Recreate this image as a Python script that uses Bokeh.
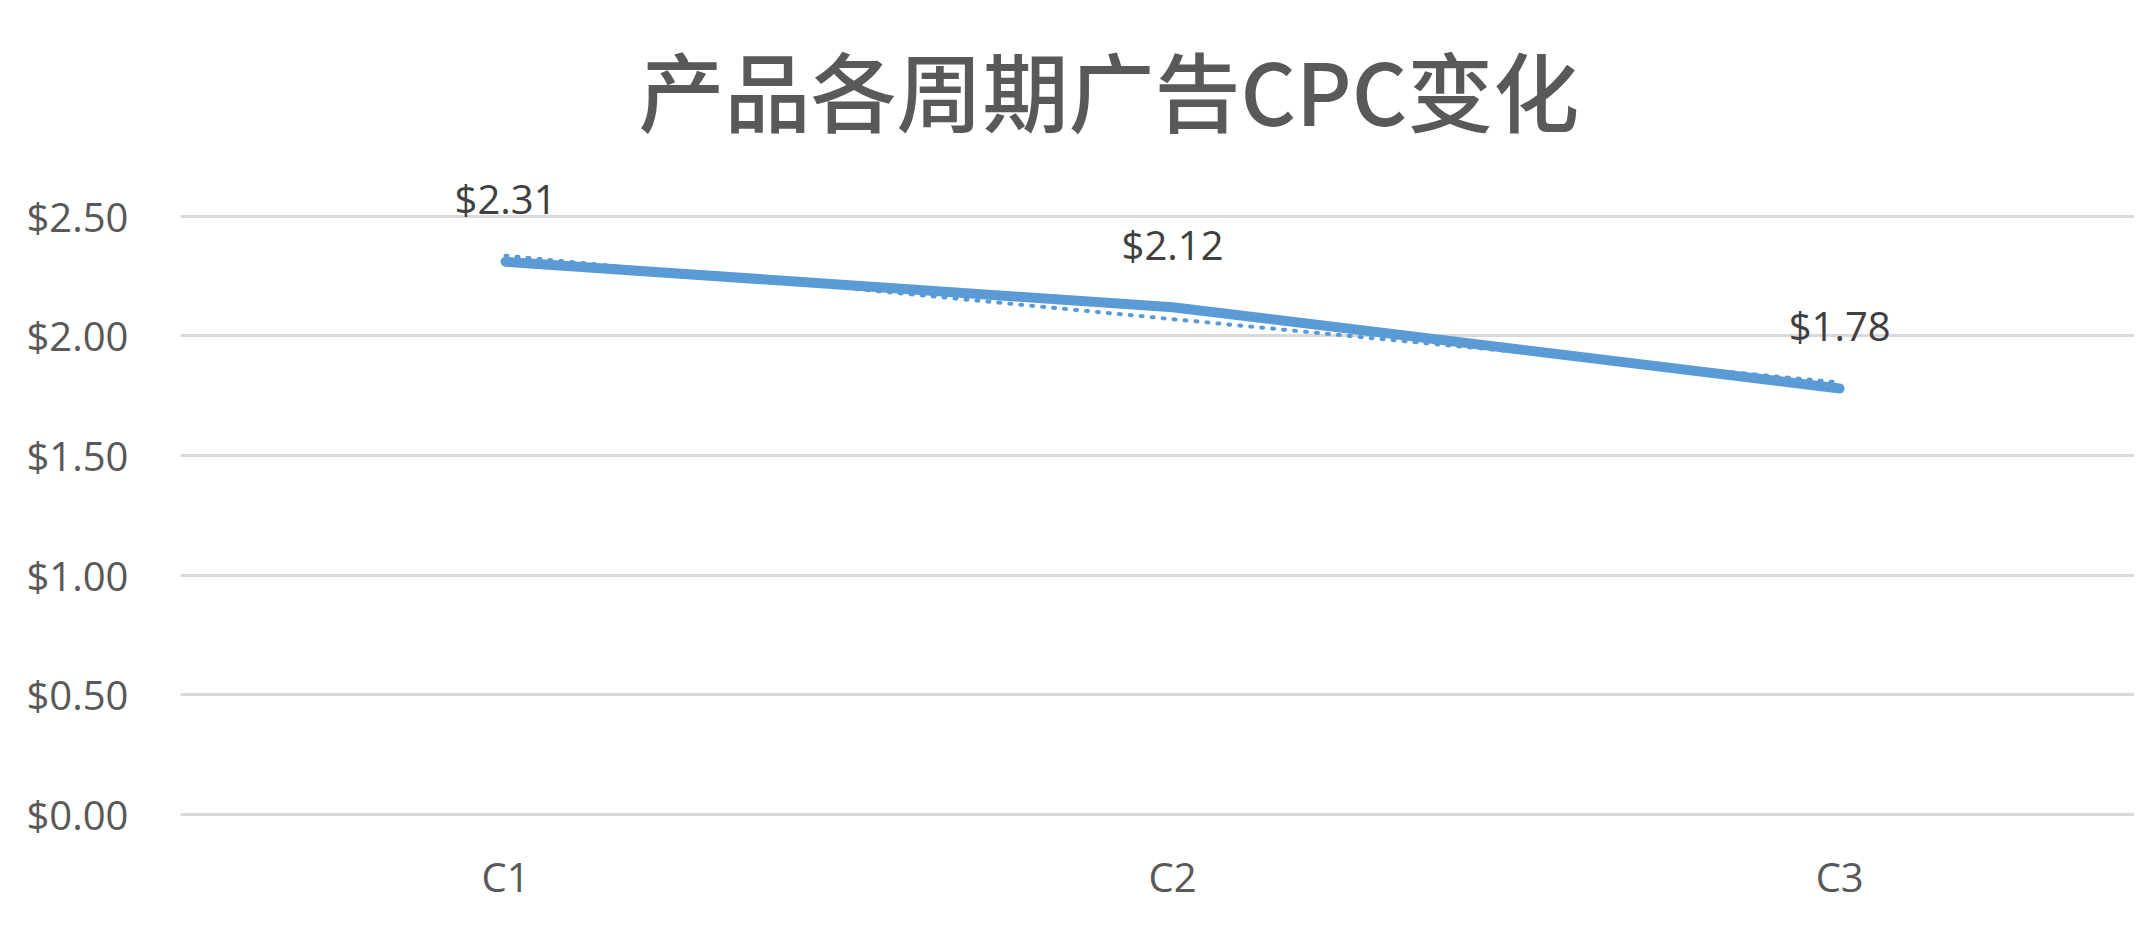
import numpy as np
from bokeh.plotting import figure
from bokeh.models import Range1d, FixedTicker, NumeralTickFormatter, ColumnDataSource, Title
from bokeh.core.properties import value
from bokeh.embed import file_html
from bokeh.resources import INLINE

# ---- data ----
categories = ["C1", "C2", "C3"]
cpc_values = [2.31, 2.12, 1.78]
cpc_labels = ["$2.31", "$2.12", "$1.78"]
y_ticks = [0.0, 0.5, 1.0, 1.5, 2.0, 2.5]
title_text = "产品各周期广告CPC变化"

x_pos = list(range(len(categories)))
# linear trendline (Excel-style) derived from the series
slope, intercept = np.polyfit(x_pos, cpc_values, 1)
trend_vals = [float(slope * xi + intercept) for xi in x_pos]

BLUE = "#5B9BD5"
AXIS_TXT = "#595959"
LABEL_TXT = "#404040"
GRID = "#D9D9D9"
FONT = "Open Sans"

p = figure(
    width=2134, height=930,
    x_range=Range1d(-0.4873, 2.442),
    y_range=Range1d(-0.01, 2.767),
    output_backend="svg", toolbar_location=None,
    min_border_left=180, min_border_right=0,
    min_border_top=152, min_border_bottom=114,
)
p.title = None
t = Title(text=title_text, align="left", offset=458, standoff=4,
          text_font="Noto Sans CJK SC Medium, Noto Sans CJK SC", text_font_size="86px",
          text_font_style="normal", text_color=AXIS_TXT)
p.add_layout(t, "above")

p.outline_line_color = None
p.background_fill_color = "white"
p.border_fill_color = "white"

# grid
p.xgrid.grid_line_color = None
p.ygrid.grid_line_color = GRID
p.ygrid.grid_line_width = 3
p.ygrid.ticker = FixedTicker(ticks=y_ticks)

# y axis
p.yaxis.ticker = FixedTicker(ticks=y_ticks)
p.yaxis.formatter = NumeralTickFormatter(format="$0.00")
p.yaxis.axis_line_color = None
p.yaxis.major_tick_line_color = None
p.yaxis.minor_tick_line_color = None
p.yaxis.major_label_standoff = 46
p.yaxis.major_label_text_font = FONT
p.yaxis.major_label_text_font_size = "40px"
p.yaxis.major_label_text_color = AXIS_TXT

# x axis
p.xaxis.ticker = FixedTicker(ticks=x_pos)
p.xaxis.major_label_overrides = {i: c for i, c in zip(x_pos, categories)}
p.xaxis.axis_line_color = None
p.xaxis.major_tick_line_color = None
p.xaxis.minor_tick_line_color = None
p.xaxis.major_label_standoff = 26
p.xaxis.major_label_text_font = FONT
p.xaxis.major_label_text_font_size = "40px"
p.xaxis.major_label_text_color = AXIS_TXT

src = ColumnDataSource(dict(x=x_pos, y=cpc_values, lab=cpc_labels, trend=trend_vals))

# trendline (dotted)
p.line("x", "trend", source=src, line_color=BLUE, line_width=4,
       line_dash="2 9", line_cap="round")
# main series
p.line("x", "y", source=src, line_color=BLUE, line_width=10,
       line_cap="round", line_join="round")

# data labels
p.text("x", "y", text="lab", source=src, text_font=value(FONT),
       text_font_size="40px", text_color=LABEL_TXT,
       text_align="center", text_baseline="alphabetic", y_offset=-63)

open("out.html", "w").write(file_html(p, INLINE))
